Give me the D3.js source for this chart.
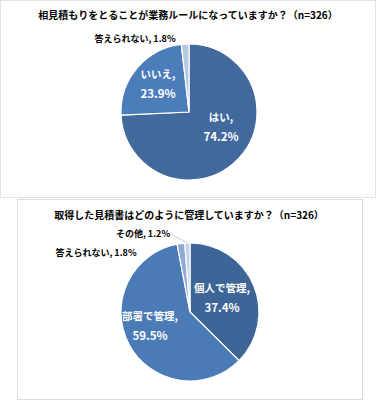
<!DOCTYPE html>
<html>
<head>
<meta charset="utf-8">
<script src="https://cdn.jsdelivr.net/npm/d3@7"></script>
<style>
  body { margin: 0; background: #fff; }
  text { font-family: "Noto Sans CJK JP", "Noto Sans", sans-serif; font-weight: bold; }
</style>
</head>
<body>
<div id="chart"></div>
<script>
// chart 1
const title1 = "相見積もりをとることが業務ルールになっていますか？（n=326）";
const cats1 = ["はい", "いいえ", "答えられない"];
const vals1 = [74.2, 23.9, 1.8];
const colors1 = ["#41699c", "#4b7dbb", "#b7c8e3"];

// chart 2
const title2 = "取得した見積書はどのように管理していますか？（n=326）";
const cats2 = ["個人で管理", "部署で管理", "答えられない", "その他"];
const vals2 = [37.4, 59.5, 1.8, 1.2];
const colors2 = ["#3d6598", "#4a7bb6", "#8fabd6", "#c5d3ea"];

const W = 378, H = 400;

const svg = d3.select("#chart")
    .append("svg")
    .attr("width", W)
    .attr("height", H);

// panel frames
svg.append("rect")
    .attr("x", 0.5).attr("y", 0.5)
    .attr("width", 375).attr("height", 197)
    .attr("fill", "none").attr("stroke", "#e3e3e3");
svg.append("rect")
    .attr("x", 17.5).attr("y", 199.5)
    .attr("width", 345).attr("height", 200)
    .attr("fill", "none").attr("stroke", "#dcdcdc");

function drawPie(opts){
    const g = svg.append("g")
        .attr("transform", `translate(${opts.cx},${opts.cy})`);

    svg.append("text")
        .attr("x", opts.cx - 1)
        .attr("y", opts.titleY)
        .attr("text-anchor", "middle")
        .attr("font-size", 10)
        .attr("fill", "#000")
        .text(opts.title);

    const data = opts.cats.map((c, i) => ({ cat: c, val: opts.vals[i], color: opts.colors[i], lab: opts.labels[i] }));

    const pie = d3.pie().sort(null).value(d => d.val);
    const arc = d3.arc().innerRadius(0).outerRadius(opts.r);
    const arcs = pie(data);

    g.selectAll("path")
        .data(arcs)
        .join("path")
        .attr("d", arc)
        .attr("fill", d => d.data.color)
        .attr("stroke", "#fff")
        .attr("stroke-width", 1.2);

    arcs.forEach(a => {
        const l = a.data.lab;
        const t = g.append("text")
            .attr("text-anchor", "middle")
            .attr("font-size", l.inside ? 10.5 : 9)
            .attr("fill", l.inside ? "#fff" : "#000");
        if (l.inside) {
            t.append("tspan").attr("x", l.dx).attr("y", l.dy - 10 + 4).text(a.data.cat + ",");
            t.append("tspan").attr("x", l.dx).attr("y", l.dy + 10 + 4)
                .attr("font-size", 11.5)
                .text(a.data.val.toFixed(1) + "%");
        } else {
            t.attr("x", l.dx).attr("y", l.dy + 3.5)
                .text(a.data.cat + ", " + a.data.val.toFixed(1) + "%");
        }
        if (l.leader) {
            const mid = (a.startAngle + a.endAngle) / 2;
            const ex = Math.sin(mid) * opts.r, ey = -Math.cos(mid) * opts.r;
            g.append("line")
                .attr("x1", l.dx + 28).attr("y1", l.dy + 1)
                .attr("x2", ex).attr("y2", ey)
                .attr("stroke", "#bfbfbf")
                .attr("stroke-width", 0.8);
        }
    });
}

drawPie({
    title: title1, cats: cats1, vals: vals1, colors: colors1,
    cx: 189, cy: 112, r: 68, titleY: 19,
    labels: [
        { inside: true, dx: 32, dy: 15 },
        { inside: true, dx: -31, dy: -28 },
        { inside: false, dx: -54, dy: -74 }
    ]
});

drawPie({
    title: title2, cats: cats2, vals: vals2, colors: colors2,
    cx: 190, cy: 312, r: 69, titleY: 219,
    labels: [
        { inside: true, dx: 32, dy: -14 },
        { inside: true, dx: -40, dy: 14 },
        { inside: false, dx: -94, dy: -60 },
        { inside: false, dx: -47, dy: -79, leader: true }
    ]
});
</script>
</body>
</html>
